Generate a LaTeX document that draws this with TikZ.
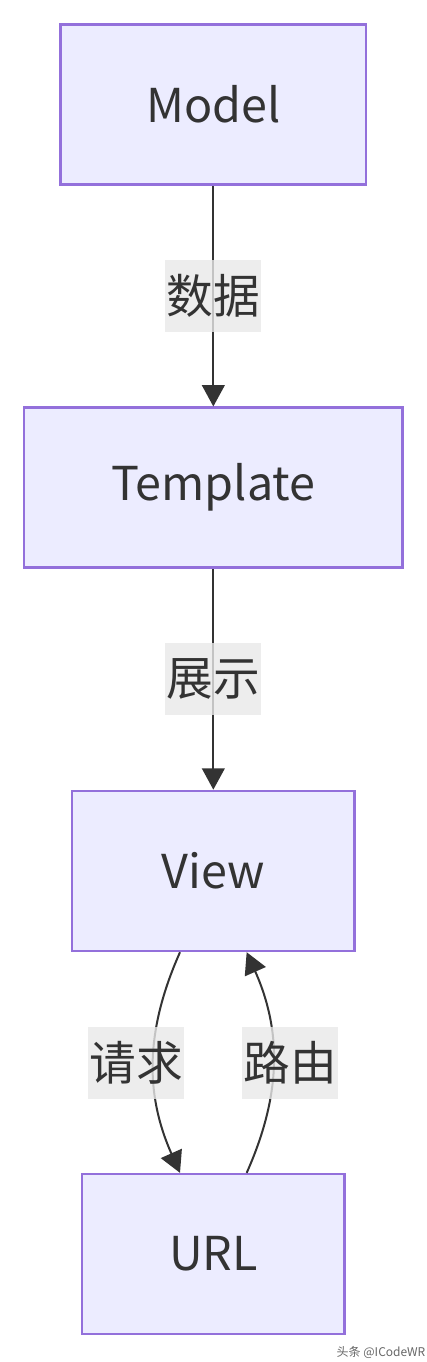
\documentclass[tikz,border=0pt]{standalone}
\usepackage{xcolor}
\usepackage{fontspec}
\setmainfont{Noto Sans CJK SC}
\usepackage{tikz}
\usetikzlibrary{arrows.meta, positioning}

\definecolor{boxfill}{HTML}{ECECFF}
\definecolor{boxline}{HTML}{9370DB}
\definecolor{ink}{HTML}{333333}
\definecolor{lblfill}{HTML}{E8E8E8}

\begin{document}
\begin{tikzpicture}
\tikzstyle{box} = [rectangle, draw=boxline, fill=boxfill, line width=1.9pt, minimum height=120pt, text=ink, font=\fontsize{35}{42}\selectfont]
\tikzstyle{lbl} = [fill=lblfill, fill opacity=0.8, text opacity=1, text=ink, minimum width=72pt, minimum height=54pt, inner sep=0pt, font=\fontsize{35}{42}\selectfont]
\tikzstyle{flow} = [draw=ink, line width=1.5pt, -{Triangle[length=16pt, width=17pt]}]

\useasboundingbox (0,0) rectangle (320.25pt,-1021.5pt);

\node (model) [box, minimum width=229pt] at (160pt,-78.4pt) {Model};
\node (tmpl) [box, minimum width=284pt, below=165.5pt of model] {Template};
\node (view) [box, minimum width=212pt, below=165.5pt of tmpl] {View};
\node (url) [box, minimum width=197pt, below=165.5pt of view] {URL};

\draw[flow] (model) -- node[lbl] {数据} (tmpl);
\draw[flow] (tmpl) -- node[lbl] {展示} (view);
\draw[flow] ([xshift=-25pt]view.south) to[bend right=24] node[lbl, xshift=-13pt] {请求} ([xshift=-25pt]url.north);
\draw[flow] ([xshift=25pt]url.north) to[bend right=24] node[lbl, xshift=13pt] {路由} ([xshift=25pt]view.south);

\node (mark) [text=gray!80!black, font=\fontsize{9}{10}\selectfont] at (285.75pt,-1014pt) {头条 @ICodeWR};
\end{tikzpicture}
\end{document}
